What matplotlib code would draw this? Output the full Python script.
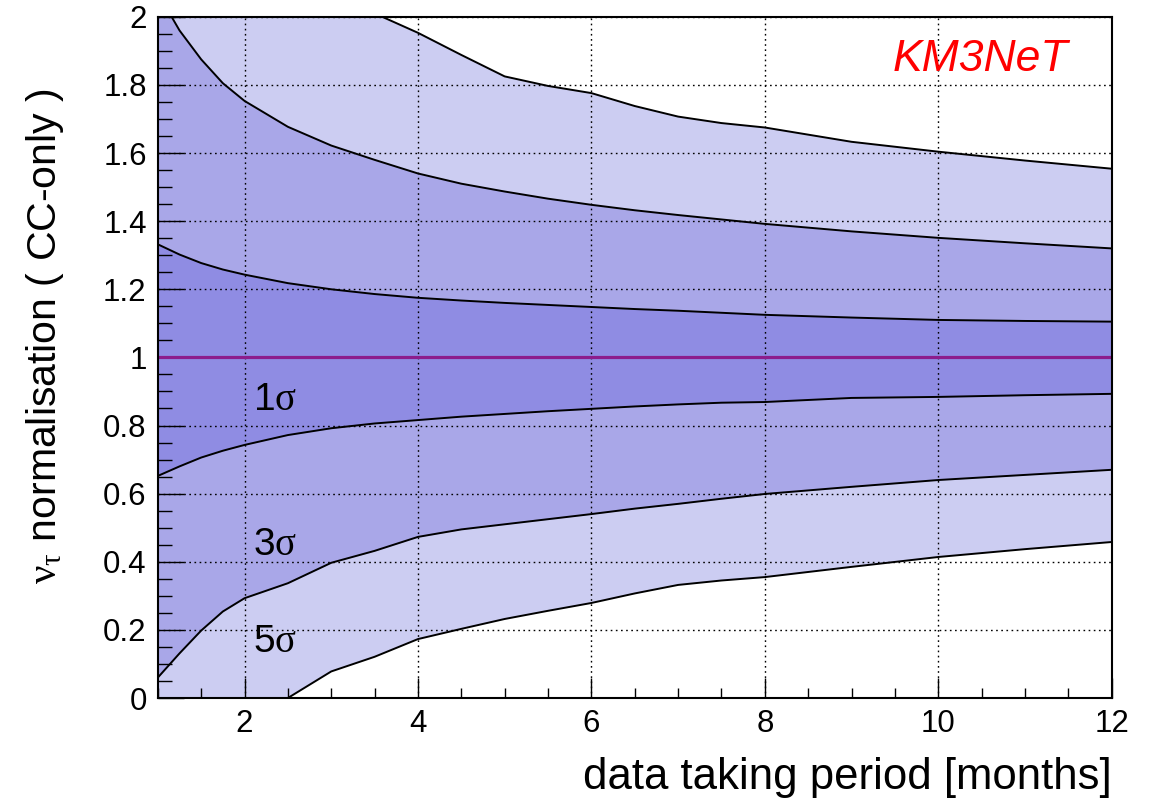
import matplotlib
matplotlib.use("Agg")
import matplotlib.pyplot as plt
from matplotlib.ticker import MultipleLocator, FuncFormatter

plt.rcParams['font.family'] = ['Liberation Sans', 'DejaVu Sans']
plt.rcParams['mathtext.fontset'] = 'custom'
plt.rcParams['mathtext.rm'] = 'Liberation Serif'
plt.rcParams['mathtext.it'] = 'Liberation Serif:italic'
plt.rcParams['mathtext.bf'] = 'Liberation Serif:bold'

# data taking period [months]
months = [1, 1.25, 1.5, 1.75, 2, 2.5, 3, 3.5, 4, 4.5, 5, 5.5, 6, 6.5, 7, 7.5, 8, 9, 10, 11, 12]

# contour boundaries of the nu_tau normalisation
up_1sigma = [1.332, 1.302, 1.277, 1.258, 1.243, 1.218, 1.200, 1.186, 1.175, 1.167, 1.160,
             1.154, 1.148, 1.142, 1.137, 1.131, 1.125, 1.117, 1.110, 1.107, 1.105]
lo_1sigma = [0.652, 0.680, 0.706, 0.726, 0.743, 0.772, 0.792, 0.806, 0.816, 0.826, 0.834,
             0.842, 0.849, 0.856, 0.862, 0.867, 0.869, 0.881, 0.884, 0.889, 0.893]
up_3sigma = [2.07, 1.960, 1.875, 1.805, 1.753, 1.677, 1.622, 1.580, 1.540, 1.510, 1.487,
             1.466, 1.448, 1.432, 1.418, 1.405, 1.392, 1.370, 1.351, 1.335, 1.320]
lo_3sigma = [0.060, 0.131, 0.198, 0.254, 0.293, 0.337, 0.397, 0.432, 0.473, 0.495, 0.510,
             0.525, 0.540, 0.556, 0.570, 0.585, 0.599, 0.620, 0.640, 0.655, 0.670]
up_5sigma = [3.0, 2.85, 2.7, 2.57, 2.45, 2.25, 2.12, 2.01, 1.953, 1.888, 1.825,
             1.797, 1.776, 1.738, 1.707, 1.688, 1.675, 1.633, 1.604, 1.578, 1.554]
lo_5sigma = [-0.6, -0.5, -0.4, -0.3, -0.2, 0.0, 0.078, 0.121, 0.173, 0.203, 0.232,
             0.256, 0.279, 0.307, 0.332, 0.345, 0.355, 0.385, 0.414, 0.437, 0.458]

nominal = 1.0
band_labels = [r'1$\mathrm{\sigma}$', r'3$\mathrm{\sigma}$', r'5$\mathrm{\sigma}$']
band_label_pos = [(2.1, 0.875), (2.1, 0.45), (2.1, 0.165)]

c5, c3, c1 = '#cccdf2', '#a9a7e8', '#8f8ce3'

fig = plt.figure(figsize=(11.52, 8), dpi=100)
ax = fig.add_axes([0.137, 0.1275, 0.828, 0.8515])

ax.fill_between(months, lo_5sigma, up_5sigma, color=c5, lw=0, zorder=1)
ax.fill_between(months, lo_3sigma, up_3sigma, color=c3, lw=0, zorder=1.1)
ax.fill_between(months, lo_1sigma, up_1sigma, color=c1, lw=0, zorder=1.2)
for curve in (up_5sigma, lo_5sigma, up_3sigma, lo_3sigma, up_1sigma, lo_1sigma):
    ax.plot(months, curve, color='black', lw=1.4, zorder=3)
ax.axhline(nominal, color='#8c1c8c', lw=2.3, zorder=3.5)

ax.set_xlim(1, 12)
ax.set_ylim(0, 2)
ax.xaxis.set_major_locator(MultipleLocator(2))
ax.xaxis.set_minor_locator(MultipleLocator(0.5))
ax.yaxis.set_major_locator(MultipleLocator(0.2))
ax.yaxis.set_minor_locator(MultipleLocator(0.05))
ax.yaxis.set_major_formatter(FuncFormatter(lambda v, p: '%g' % round(v, 3)))
ax.xaxis.set_major_formatter(FuncFormatter(lambda v, p: '%g' % v))

ax.tick_params(axis='both', which='both', direction='in', labelsize=22.5,
               width=1.0, top=False, right=False)
ax.tick_params(axis='x', which='major', length=14.5, pad=8)
ax.tick_params(axis='x', which='minor', length=7.2)
ax.tick_params(axis='y', which='major', length=19, pad=8)
ax.tick_params(axis='y', which='minor', length=10)

ax.grid(True, which='major', color='black', lw=1.0, linestyle=(0, (1.2, 2.5)), zorder=2)
ax.set_axisbelow(False)
for s in ax.spines.values():
    s.set_linewidth(1.5)
    s.set_zorder(4)

for lab, (x, y) in zip(band_labels, band_label_pos):
    ax.text(x, y, lab, fontsize=28, ha='left', va='center', zorder=5)

ax.text(0.954, 0.937, 'KM3NeT', color='red', fontsize=32, style='italic',
        ha='right', va='center', transform=ax.transAxes)

ax.text(1.0, -0.117, 'data taking period [months]', fontsize=31.5,
        ha='right', va='center', transform=ax.transAxes)
ax.text(-0.118, 0.895, r'$\mathrm{\nu}_{\mathrm{\tau}}$ normalisation ( CC-only )',
        fontsize=29.5, rotation=90, ha='center', va='top', transform=ax.transAxes)

fig.savefig('out.png', dpi=100)
